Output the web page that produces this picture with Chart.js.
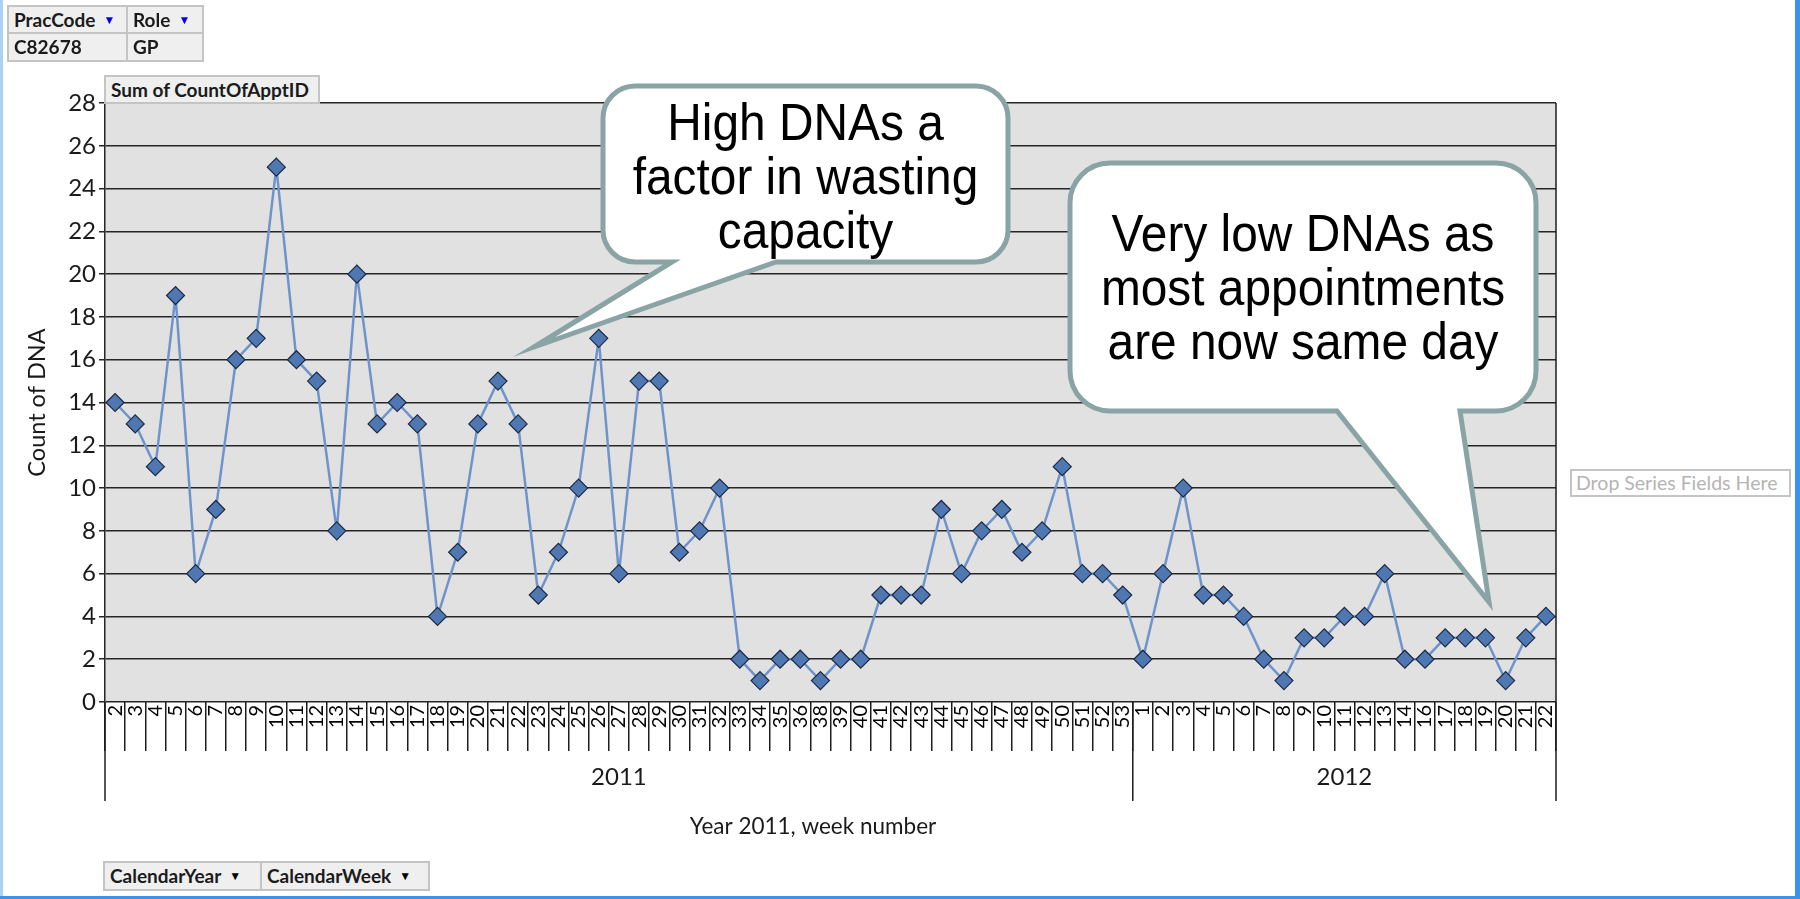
<!DOCTYPE html>
<html>
<head>
<meta charset="utf-8">
<script src="https://cdn.jsdelivr.net/npm/chart.js@4.4.1/dist/chart.umd.min.js"></script>
<style>
  body { margin: 0; background: #fff; width: 1800px; height: 899px; overflow: hidden; position: relative; }
  #c { position: absolute; left: 0; top: 0; }
  .pb { position: absolute; box-sizing: border-box; background: #efefef; border: 2px solid #c4c4c4;
        font: bold 19px Lato, sans-serif; color: #1b1b1b; padding-left: 5px; white-space: nowrap; }
  .tri { font-size: 12px; margin-left: 8px; position: relative; top: -3px; }
  .edge { position: absolute; background: #3b93ec; }
</style>
</head>
<body>
<canvas id="c" width="1800" height="899"></canvas>

<div class="pb" style="left:7px;top:5px;width:121px;height:29px;line-height:25px">PracCode<span class="tri" style="color:#0000e6">▼</span></div>
<div class="pb" style="left:126px;top:5px;width:78px;height:29px;line-height:25px">Role<span class="tri" style="color:#0000e6">▼</span></div>
<div class="pb" style="left:7px;top:32px;width:121px;height:30px;line-height:26px">C82678</div>
<div class="pb" style="left:126px;top:32px;width:78px;height:30px;line-height:26px">GP</div>
<div class="pb" style="left:104px;top:75px;width:216px;height:29px;line-height:25px">Sum of CountOfApptID</div>
<div class="pb" style="left:103px;top:861px;width:159px;height:30px;line-height:26px">CalendarYear<span class="tri" style="color:#000">▼</span></div>
<div class="pb" style="left:260px;top:861px;width:170px;height:30px;line-height:26px">CalendarWeek<span class="tri" style="color:#000">▼</span></div>
<div class="pb" style="left:1570px;top:469px;width:221px;height:28px;line-height:24px;background:#fff;color:#b4b4b4;font-weight:normal;font-size:19.5px;padding-left:4px">Drop Series Fields Here</div>

<div class="edge" style="left:0;top:0;width:3px;height:899px;background:#a9d2f6"></div>
<div class="edge" style="left:1795px;top:0;width:5px;height:899px"></div>
<div class="edge" style="left:0;top:896px;width:1800px;height:3px"></div>

<script>
// week numbers as shown on the axis (2011 has no week 37, 2012 has no week 15)
const weeks2011 = ['2','3','4','5','6','7','8','9','10','11','12','13','14','15','16','17','18','19','20','21',
  '22','23','24','25','26','27','28','29','30','31','32','33','34','35','36','38','39','40','41','42',
  '43','44','45','46','47','48','49','50','51','52','53'];
const weeks2012 = ['1','2','3','4','5','6','7','8','9','10','11','12','13','14','16','17','18','19','20','21','22'];

const dna2011 = [14,13,11,19,6,9,16,17,25,16,15,8,20,13,14,13,4,7,13,15,
  13,5,7,10,17,6,15,15,7,8,10,2,1,2,2,1,2,2,5,5,
  5,9,6,8,9,7,8,11,6,6,5];
const dna2012 = [2,6,10,5,5,4,2,1,3,3,4,4,6,2,2,3,3,3,1,3,4];

const years = ['2011', '2012'];
const yTicks = [0, 28, 2]; // min, max, step

const labels = weeks2011.concat(weeks2012);
const counts = dna2011.concat(dna2012);

const FONT = 'Lato, sans-serif';

function callout(ctx, b, t) {
  const r = b.r;
  ctx.save();
  ctx.beginPath();
  ctx.moveTo(b.x1 + r, b.y1);
  ctx.lineTo(b.x2 - r, b.y1);
  ctx.arcTo(b.x2, b.y1, b.x2, b.y1 + r, r);
  ctx.lineTo(b.x2, b.y2 - r);
  ctx.arcTo(b.x2, b.y2, b.x2 - r, b.y2, r);
  ctx.lineTo(t.b2, b.y2);
  ctx.lineTo(t.x, t.y);
  ctx.lineTo(t.b1, b.y2);
  ctx.lineTo(b.x1 + r, b.y2);
  ctx.arcTo(b.x1, b.y2, b.x1, b.y2 - r, r);
  ctx.lineTo(b.x1, b.y1 + r);
  ctx.arcTo(b.x1, b.y1, b.x1 + r, b.y1, r);
  ctx.closePath();
  ctx.fillStyle = '#fff';
  ctx.fill();
  ctx.lineWidth = 5;
  ctx.strokeStyle = '#8aa4a6';
  ctx.stroke();
  ctx.fillStyle = '#000';
  ctx.font = '52px "Liberation Sans", Arial, sans-serif';
  ctx.textAlign = 'center';
  ctx.textBaseline = 'alphabetic';
  b.lines.forEach((s, i) => {
    ctx.save();
    ctx.translate((b.x1 + b.x2) / 2, b.base + i * 54);
    ctx.scale(0.92, 1);
    ctx.fillText(s, 0, 0);
    ctx.restore();
  });
  ctx.restore();
}

const decor = {
  id: 'decor',
  beforeDraw(chart) {
    const { ctx, chartArea: a } = chart;
    ctx.save();
    ctx.fillStyle = '#e1e1e1';
    ctx.fillRect(a.left, a.top, a.right - a.left, a.bottom - a.top);
    ctx.restore();
  },
  afterDraw(chart) {
    const { ctx, chartArea: a } = chart;
    const x = chart.scales.x;
    const half = (x.getPixelForValue(1) - x.getPixelForValue(0)) / 2;
    const left = x.getPixelForValue(0) - half;
    const sep = x.getPixelForValue(weeks2011.length) - half;
    const right = x.getPixelForValue(labels.length - 1) + half;
    ctx.save();
    ctx.strokeStyle = '#1e1e1e';
    ctx.lineWidth = 1.5;
    ctx.beginPath();
    [left, sep, right].forEach(px => { ctx.moveTo(px, a.bottom); ctx.lineTo(px, 801); });
    ctx.moveTo(a.right, a.top);
    ctx.lineTo(a.right, a.bottom);
    ctx.stroke();
    ctx.fillStyle = '#1a1a1a';
    ctx.font = '24px ' + FONT;
    ctx.textAlign = 'center';
    ctx.textBaseline = 'middle';
    ctx.fillText(years[0], (left + sep) / 2, 777);
    ctx.fillText(years[1], (sep + right) / 2, 777);
    // axis title, a little left of the plot centre as in the pivot chart
    ctx.font = '22.5px ' + FONT;
    ctx.fillText('Year 2011, week number', 813, 827);
    ctx.restore();

    callout(ctx,
      { x1: 603, y1: 86, x2: 1008, y2: 262, r: 32, base: 140,
        lines: ['High DNAs a', 'factor in wasting', 'capacity'] },
      { b1: 672, b2: 776, x: 534, y: 347 });
    callout(ctx,
      { x1: 1070, y1: 163, x2: 1536, y2: 411, r: 40, base: 251,
        lines: ['Very low DNAs as', 'most appointments', 'are now same day'] },
      { b1: 1337, b2: 1460, x: 1489, y: 602 });
  }
};

new Chart(document.getElementById('c'), {
  type: 'line',
  data: {
    labels: labels,
    datasets: [{
      label: 'Sum of CountOfApptID',
      data: counts,
      borderColor: '#6e94cb',
      borderWidth: 2.5,
      tension: 0,
      pointStyle: 'rectRot',
      pointRadius: 9,
      pointBackgroundColor: '#4f77b2',
      pointBorderColor: '#1c2a44',
      pointBorderWidth: 1.2
    }]
  },
  options: {
    responsive: false,
    animation: false,
    devicePixelRatio: 1,
    layout: { padding: { top: 103, right: 244, bottom: 0, left: 0 } },
    plugins: { legend: { display: false }, tooltip: { enabled: false } },
    scales: {
      x: {
        type: 'category',
        offset: true,
        grid: { offset: true, drawOnChartArea: false, tickLength: 49, color: '#1e1e1e', lineWidth: 1.5 },
        border: { display: false },
        ticks: { autoSkip: false, minRotation: 90, maxRotation: 90, padding: -46, color: '#000',
                 font: { family: FONT, size: 20 } },
        afterFit(s) { s.height = 197; }
      },
      y: {
        min: yTicks[0],
        max: yTicks[1],
        ticks: { stepSize: yTicks[2], padding: 3, color: '#1a1a1a', font: { family: FONT, size: 24 } },
        grid: { color: '#262626', lineWidth: 1.5, tickLength: 6 },
        border: { display: true, color: '#262626', width: 1.5 },
        title: { display: true, text: 'Count of DNA', color: '#1a1a1a',
                 font: { family: FONT, size: 23.5 }, padding: { top: 23, bottom: 0 } },
        afterFit(s) { s.width = 105; }
      }
    }
  },
  plugins: [decor]
});
</script>
</body>
</html>
